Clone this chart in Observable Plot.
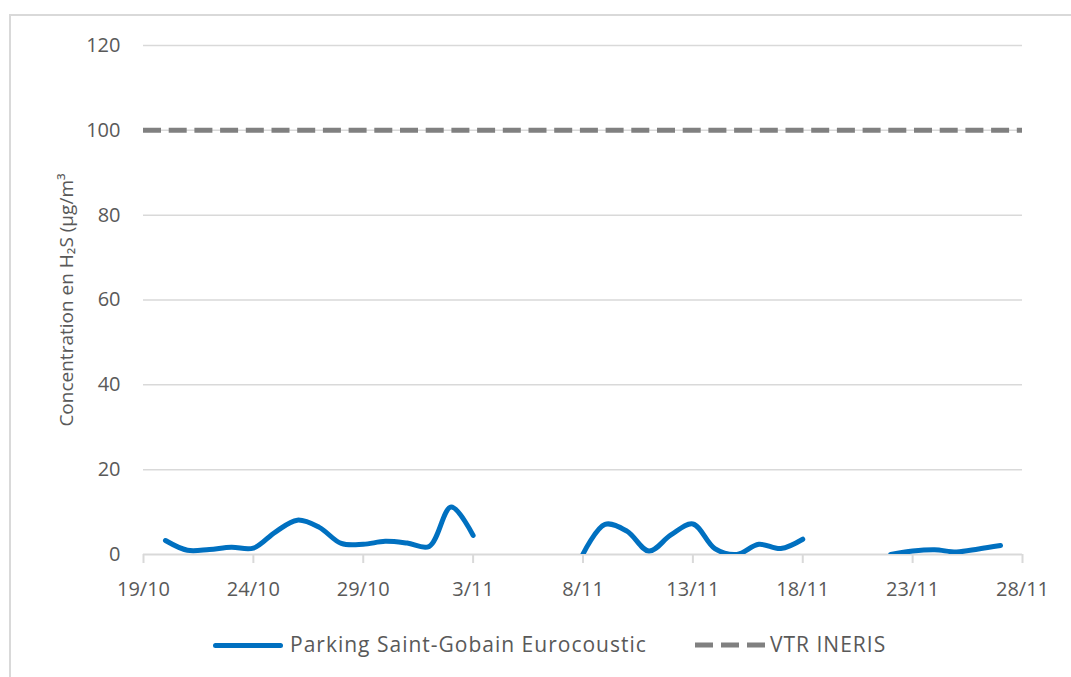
<!DOCTYPE html>
<html>
<head>
<meta charset="utf-8">
<script src="https://cdn.jsdelivr.net/npm/d3@7"></script>
<script src="https://cdn.jsdelivr.net/npm/@observablehq/plot@0.6"></script>
<style>
  html, body { margin: 0; padding: 0; background: #fff; }
  #wrap { position: relative; width: 1071px; height: 677px; overflow: hidden; font-family: "Open Sans", sans-serif; color: #595959; }
  #frame { position: absolute; left: 9px; top: 14px; right: -10px; bottom: -10px; border-top: 2px solid #d9d9d9; border-left: 2px solid #d9d9d9; pointer-events: none; }
  #chart { position: absolute; left: 0; top: 0; }
  #chart svg { font-family: "Open Sans", sans-serif; }
  g[aria-label="ylabel"] text { letter-spacing: 1.7px; }
  #legend { position: absolute; left: 0; top: 615px; width: 1071px; height: 62px; }
  .sw { position: absolute; height: 0; }
  .lt { position: absolute; font-size: 21px; letter-spacing: 1px; line-height: 28px; white-space: nowrap; }
</style>
</head>
<body>
<div id="wrap">
  <div id="chart"></div>
  <div id="legend">
    <div class="sw" style="left:213px; top:28px; width:70px; border-top:5px solid #0070C0; border-radius:3px;"></div>
    <div class="lt" style="left:290px; top:15px;">Parking Saint-Gobain Eurocoustic</div>
    <svg class="sw" style="left:693px; top:26px; width:74px; height:8px; overflow:visible;">
      <line x1="2" y1="4" x2="72" y2="4" stroke="#808080" stroke-width="5" stroke-dasharray="18,8"></line>
    </svg>
    <div class="lt" style="left:770px; top:15px;">VTR INERIS</div>
  </div>
  <div id="frame"></div>
</div>
<script>
// Dates (day/month), year assumed 2021
const days = [
  "20/10","21/10","22/10","23/10","24/10","25/10","26/10","27/10","28/10","29/10","30/10","31/10","1/11","2/11","3/11",
  "4/11","5/11","6/11","7/11",
  "8/11","9/11","10/11","11/11","12/11","13/11","14/11","15/11","16/11","17/11","18/11",
  "19/11","20/11","21/11",
  "22/11","23/11","24/11","25/11","26/11","27/11"
];
const concentrations = [
  3.3, 1.0, 1.2, 1.7, 1.5, 5.3, 8.1, 6.4, 2.6, 2.4, 3.1, 2.7, 1.9, 11.2, 4.5,
  null, null, null, null,
  0.1, 7.1, 5.5, 0.8, 4.6, 7.2, 1.4, 0.0, 2.4, 1.4, 3.6,
  null, null, null,
  0.0, 0.8, 1.1, 0.6, 1.3, 2.1
];
const vtrValue = 100;
const xTickLabels = ["19/10","24/10","29/10","3/11","8/11","13/11","18/11","23/11","28/11"];
const yTicks = [0, 20, 40, 60, 80, 100, 120];
const seriesName = "Parking Saint-Gobain Eurocoustic";
const refName = "VTR INERIS";
const yLabel = "Concentration en H₂S (µg/m³";

const parseDay = s => { const [d, m] = s.split("/").map(Number); return new Date(Date.UTC(2021, m - 1, d)); };
const data = days.map((d, i) => ({date: parseDay(d), value: concentrations[i]}));
const xTicks = xTickLabels.map(parseDay);
const fmt = d => `${d.getUTCDate()}/${d.getUTCMonth() + 1}`;

const chart = Plot.plot({
  width: 1071,
  height: 615,
  marginLeft: 143,
  marginRight: 49,
  marginTop: 45,
  marginBottom: 61,
  style: {background: "transparent", color: "#595959"},
  x: {type: "utc", domain: [xTicks[0], xTicks[xTicks.length - 1]]},
  y: {domain: [0, 120]},
  marks: [
    Plot.gridY(yTicks.filter(t => t > 0), {stroke: "#d9d9d9", strokeOpacity: 1, strokeWidth: 1.5}),
    Plot.axisY({ticks: yTicks, tickSize: 0, tickPadding: 23, fontSize: 20, fill: "#595959", label: null}),
    Plot.axisX({ticks: xTicks, tickFormat: fmt, tickSize: 9, tickPadding: 18, fontSize: 20, fill: "#595959", stroke: "#d9d9d9", strokeWidth: 2, label: null}),
    Plot.ruleY([0], {stroke: "#d9d9d9", strokeWidth: 2}),
    Plot.text([yLabel], {frameAnchor: "left", dx: -77, rotate: -90, textAnchor: "middle", lineAnchor: "middle", fontSize: 19, fill: "#595959", ariaLabel: "ylabel"}),
    Plot.ruleY([vtrValue], {stroke: "#808080", strokeWidth: 5, strokeDasharray: "18,7.7"}),
    Plot.line(data, {x: "date", y: "value", stroke: "#0070C0", strokeWidth: 5, curve: "catmull-rom", clip: true, strokeLinecap: "round", strokeLinejoin: "round"})
  ]
});
document.getElementById("chart").appendChild(chart);
</script>
</body>
</html>
